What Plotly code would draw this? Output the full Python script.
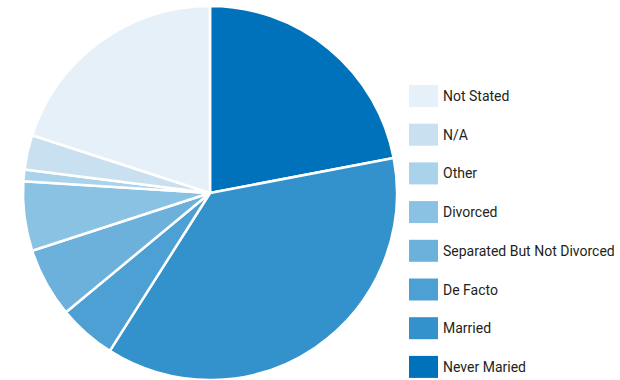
import plotly.graph_objects as go

# Marital status shares (percent), in clockwise order from 12 o'clock
categories = ["Never Maried", "Married", "De Facto", "Separated But Not Divorced",
              "Divorced", "Other", "N/A", "Not Stated"]
shares = [22, 37, 5, 6, 6, 1, 3, 20]
colors = ["#0072BC", "#3391CC", "#4DA0D3", "#6BB1DC", "#8AC2E4",
          "#A9D2EB", "#C8E0F0", "#E6F0F9"]

W, H = 620, 380
cx, cy, r = 210, 193, 187

fig = go.Figure(go.Pie(
    labels=categories,
    values=shares,
    marker=dict(colors=colors, line=dict(color="white", width=2.5)),
    sort=False,
    direction="clockwise",
    rotation=0,
    textinfo="none",
    hoverinfo="label+percent",
    showlegend=False,
    domain=dict(x=[(cx - r) / W, (cx + r) / W], y=[1 - (cy + r) / H, 1 - (cy - r) / H]),
))

# Legend: swatches with labels, listed top-down in reverse slice order
font = dict(family="Roboto, Liberation Sans, sans-serif", size=14, color="#231F20")
sw_x0, sw_w, sw_h = 409, 29, 22
row0, step = 96, 38.7
for i, (name, col) in enumerate(zip(categories[::-1], colors[::-1])):
    yc = row0 + i * step
    fig.add_shape(type="rect", xref="paper", yref="paper",
                  x0=sw_x0 / W, x1=(sw_x0 + sw_w) / W,
                  y0=1 - (yc + sw_h / 2) / H, y1=1 - (yc - sw_h / 2) / H,
                  fillcolor=col, line=dict(width=0))
    fig.add_annotation(xref="paper", yref="paper", x=441 / W, y=1 - yc / H,
                       text=name, showarrow=False, xanchor="left", yanchor="middle",
                       font=font)

fig.update_layout(
    width=W, height=H,
    margin=dict(l=0, r=0, t=0, b=0),
    paper_bgcolor="white", plot_bgcolor="white",
)

fig.write_html("out.html")
